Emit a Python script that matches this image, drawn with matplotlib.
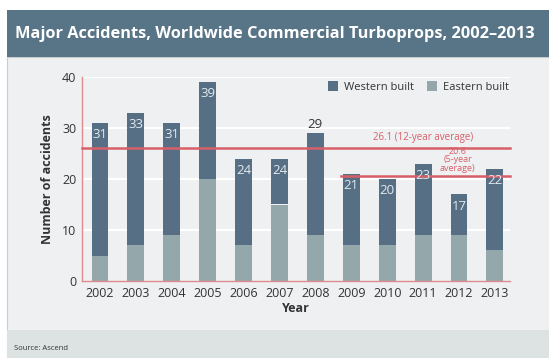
import matplotlib
matplotlib.use("Agg")
import matplotlib.pyplot as plt
from matplotlib.patches import Rectangle
import numpy as np

years = ["2002", "2003", "2004", "2005", "2006", "2007", "2008", "2009", "2010", "2011", "2012", "2013"]
totals = [31, 33, 31, 39, 24, 24, 29, 21, 20, 23, 17, 22]
eastern = [5, 7, 9, 20, 7, 15, 9, 7, 7, 9, 9, 6]
western = [t - e for t, e in zip(totals, eastern)]
avg12 = 26.1
avg5 = 20.6

W, H = 549, 358
fig = plt.figure(figsize=(W / 100, H / 100), dpi=100)
fig.patch.set_facecolor("white")

def fx(px):
    return px / W

def fy(py):
    return 1 - py / H

# panel background
fig.patches.append(Rectangle((fx(7), fy(358)), 1, fy(57) - fy(358), transform=fig.transFigure,
                             facecolor="#eef0f1", edgecolor="#c8cdd0", lw=0.8, zorder=-3))
# footer band
fig.patches.append(Rectangle((fx(7), 0), 1, fy(330), transform=fig.transFigure,
                             facecolor="#dde2e3", edgecolor="none", zorder=-2))
# title bar
fig.patches.append(Rectangle((fx(7), fy(57)), 1, fy(10) - fy(57), transform=fig.transFigure,
                             facecolor="#587487", edgecolor="none", zorder=-2))
fig.text(fx(15), fy(34), "Major Accidents, Worldwide Commercial Turboprops, 2002\u20132013",
         color="white", fontsize=11.8, fontweight="bold", family="Open Sans", va="center", ha="left")
fig.text(fx(14), fy(348), "Source: Ascend", color="#333333", fontsize=5.5, family="Open Sans",
         va="center", ha="left")

ax = fig.add_axes([fx(82), fy(281), fx(510) - fx(82), fy(77) - fy(281)])
ax.set_facecolor("none")
x = np.arange(len(years))
wcol = "#566f84"
ecol = "#94a8ab"
bw = 0.47
ax.bar(x, eastern, bw, color=ecol, label="Eastern built", zorder=2)
ax.bar(x, western, bw, bottom=eastern, color=wcol, label="Western built", zorder=2)

ax.set_xlim(-0.5, 11.42)
ax.set_ylim(0, 40)
ax.set_yticks([0, 10, 20, 30, 40])
for v in [10, 20, 30, 40]:
    ax.axhline(v, color="white", lw=1.6, zorder=1)

red = "#d85f69"
ax.plot([-0.5, 11.42], [avg12, avg12], color=red, lw=1.8, zorder=3, clip_on=False)
ax.plot([6.7, 11.42], [avg5, avg5], color=red, lw=1.8, zorder=3, clip_on=False)
ax.text(9.0, avg12 + 2.0, f"{avg12} (12-year average)", color=red, fontsize=7, ha="center",
        va="center", family="Open Sans", zorder=4)
ax.text(9.97, avg5 + 0.6, f"{avg5}\n(5-year\naverage)", color=red, fontsize=6.5, ha="center",
        va="bottom", family="Open Sans", linespacing=0.95, zorder=4)

for i, t in enumerate(totals):
    if years[i] == "2008":
        ax.text(i, t + 1.6, str(t), color="#333333", fontsize=9.5, ha="center", va="center",
                family="Open Sans", zorder=4)
    else:
        ax.text(i, t - 2.3, str(t), color="#e3eaef", fontsize=9.5, ha="center", va="center",
                family="Open Sans", zorder=4)

ax.set_xticks(x)
ax.set_xticklabels(years)
ax.tick_params(length=0, labelsize=9, colors="#333333", pad=4)
for lab in ax.get_xticklabels() + ax.get_yticklabels():
    lab.set_family("Open Sans")
ax.set_xlabel("Year", fontsize=9, fontweight="bold", family="Open Sans", color="#333333", labelpad=2)
ax.set_ylabel("Number of accidents", fontsize=9, fontweight="bold", family="Open Sans",
              color="#333333", labelpad=6)
for s in ["top", "right"]:
    ax.spines[s].set_visible(False)
for s in ["left", "bottom"]:
    ax.spines[s].set_color("#e08a8f")
    ax.spines[s].set_linewidth(1)

handles, labels = ax.get_legend_handles_labels()
leg = ax.legend(handles[::-1], labels[::-1], loc="center right", bbox_to_anchor=(1.02, 0.95), ncol=2,
                frameon=False, handlelength=0.9, handleheight=0.9, columnspacing=1.2,
                handletextpad=0.5, prop={"family": "Open Sans", "size": 8})
for t in leg.get_texts():
    t.set_color("#333333")

fig.savefig("out.png", dpi=100)
